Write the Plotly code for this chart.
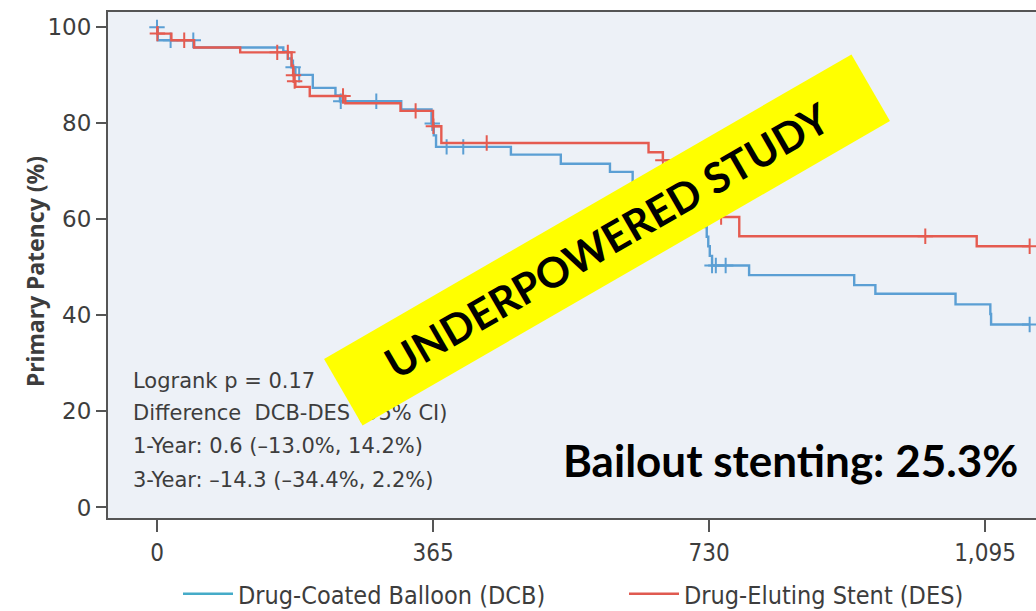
import numpy as np
import plotly.graph_objects as go

# Kaplan-Meier primary patency estimates: event days and % patent after each step
dcb_days = [0, 1, 49, 167, 173, 178, 183, 206, 236, 242, 323, 363, 366, 369, 468, 534,
            599, 629, 668, 703, 722, 725, 727, 729, 731, 734, 783, 922, 950, 1056, 1102, 1103]
dcb_patency = [100, 97.3, 95.8, 95.0, 93.5, 91.7, 90.1, 87.4, 85.8, 84.6, 82.9, 80.0, 77.5, 75.1,
               73.5, 71.6, 69.9, 67.6, 65.3, 63.0, 60.7, 58.4, 56.4, 54.4, 52.4, 50.4, 48.4,
               46.3, 44.5, 42.3, 40.3, 38.1]
dcb_censored = [0, 18, 48, 180, 188, 243, 290, 364, 383, 405, 734, 739, 752, 1154]

des_days = [0, 0.5, 19, 49, 110, 178, 180, 181.5, 183, 202, 249, 322, 365, 376, 650, 669,
            690, 712, 735, 742, 770, 1084]
des_patency = [100, 98.7, 97.3, 95.8, 94.8, 92.0, 90.0, 88.8, 87.6, 85.7, 84.2, 82.6, 79.4,
               75.9, 74.0, 72.3, 69.9, 66.5, 63.5, 60.5, 56.5, 54.4]
des_censored = [0.5, 36, 159, 173, 180.5, 182, 246, 342, 365.5, 436, 669, 746, 1016, 1154]

follow_up_end = 1154

x_ticks = [0, 365, 730, 1095]
x_tick_labels = ["0", "365", "730", "1,095"]
y_ticks = [0, 20, 40, 60, 80, 100]

arm_names = ["Drug-Coated Balloon (DCB)", "Drug-Eluting Stent (DES)"]
stats_lines = [
    "Logrank p = 0.17",
    "Difference  DCB-DES (95% CI)",
    "1-Year: 0.6 (\u201313.0%, 14.2%)",
    "3-Year: \u201314.3 (\u201334.4%, 2.2%)",
]

CURVE_COLORS = ["#5b9fd4", "#e55b50"]
LEGEND_COLORS = ["#45abc8", "#e05a50"]
TEXT_COLOR = "#3d3d3d"
FRAME_COLOR = "#555555"


def step_value(days, surv, t):
    """Patency of the step curve at time t (value after the last step <= t)."""
    idx = np.searchsorted(np.asarray(days, dtype=float), t, side="right") - 1
    return np.asarray(surv, dtype=float)[idx]


fig = go.Figure()

arms = [
    (dcb_days, dcb_patency, dcb_censored),
    (des_days, des_patency, des_censored),
]
for (days, surv, cens), color in zip(arms, CURVE_COLORS):
    fig.add_trace(go.Scatter(
        x=list(days) + [follow_up_end], y=list(surv) + [surv[-1]],
        mode="lines", line=dict(color=color, width=2.4, shape="hv"),
        showlegend=False, hoverinfo="skip",
    ))
    cens = np.asarray(cens, dtype=float)
    fig.add_trace(go.Scatter(
        x=cens, y=step_value(days, surv, cens), mode="markers",
        marker=dict(symbol="cross-thin", size=11, line=dict(color=color, width=2)),
        showlegend=False, hoverinfo="skip",
    ))

# one legend box per arm so each key sits at its own spot under the axis
for name, color, legend_id in zip(arm_names, LEGEND_COLORS, ["legend", "legend2"]):
    fig.add_trace(go.Scatter(
        x=[None], y=[None], mode="lines", name=name, legend=legend_id,
        line=dict(color=color, width=2.5),
    ))

# plot-area geometry in pixels
W, H = 1036, 611
ML, MR, MT, MB = 108, 0, 12, 93
PW, PH = W - ML - MR, H - MT - MB


def px_to_paper(px, py):
    return (px - ML) / PW, (H - MB - py) / PH


annotations = []

tx, ty = px_to_paper(35, 272)
annotations.append(dict(
    x=tx, y=ty, xref="paper", yref="paper", text="Primary Patency (%)",
    textangle=-90, showarrow=False, xanchor="center", yanchor="middle",
    font=dict(family="Noto Sans", size=23, color=TEXT_COLOR, weight="bold"),
))

for line, py in zip(stats_lines, [381, 413, 446, 480]):
    sx, sy = px_to_paper(131, py)
    annotations.append(dict(
        x=sx, y=sy, xref="paper", yref="paper", text=line, showarrow=False,
        xanchor="left", yanchor="middle",
        font=dict(family="DejaVu Sans", size=21, color=TEXT_COLOR),
    ))

bx, by = px_to_paper(790, 460)
annotations.append(dict(
    x=bx, y=by, xref="paper", yref="paper", text="Bailout stenting: 25.3%",
    showarrow=False, xanchor="center", yanchor="middle",
    font=dict(family="Lato", size=44, color="#000000", weight="bold"),
))

cx, cy = px_to_paper(607, 240)
annotations.append(dict(
    x=cx, y=cy, xref="paper", yref="paper", text="UNDERPOWERED STUDY",
    showarrow=False, xanchor="center", yanchor="middle", textangle=-30,
    width=606, height=74, borderpad=1, bgcolor="#ffff00",
    font=dict(family="Lato", size=42, color="#000000", weight="bold"),
))

legend_style = dict(
    orientation="h", xref="paper", yref="paper", xanchor="left", yanchor="middle",
    itemwidth=50, bgcolor="rgba(0,0,0,0)",
    font=dict(family="DejaVu Sans Condensed", size=25, color=TEXT_COLOR),
)
l1x, l1y = px_to_paper(178, 594)
l2x, l2y = px_to_paper(624, 594)

fig.update_layout(
    width=W, height=H,
    margin=dict(l=ML, r=MR, t=MT, b=MB, autoexpand=False),
    paper_bgcolor="#ffffff", plot_bgcolor="#edf1f7",
    annotations=annotations,
    legend=dict(x=l1x, y=l1y, **legend_style),
    legend2=dict(x=l2x, y=l2y, **legend_style),
    xaxis=dict(
        range=[-64.8, 1162.4], tickvals=x_ticks, ticktext=x_tick_labels,
        ticks="outside", ticklen=12, tickwidth=1.5, tickcolor=FRAME_COLOR,
        showline=True, linecolor=FRAME_COLOR, linewidth=2, mirror=True,
        showgrid=False, zeroline=False,
        tickfont=dict(family="DejaVu Sans Condensed", size=24, color=TEXT_COLOR),
    ),
    yaxis=dict(
        range=[-2.2, 103.2], tickvals=y_ticks,
        ticks="outside", ticklen=10, tickwidth=1.5, tickcolor=FRAME_COLOR,
        showline=True, linecolor=FRAME_COLOR, linewidth=2, mirror=False,
        showgrid=False, zeroline=False,
        tickfont=dict(family="DejaVu Sans", size=23, color=TEXT_COLOR),
    ),
)

fig.write_html("out.html", config={"displayModeBar": False})
